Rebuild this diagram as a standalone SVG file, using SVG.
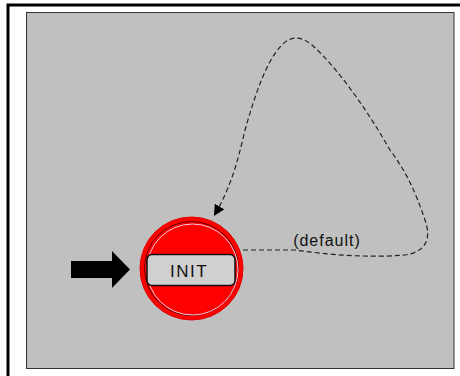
<svg xmlns="http://www.w3.org/2000/svg" width="460" height="376" viewBox="0 0 460 376">
<defs>
<style>
.lbl{font-family:"Liberation Sans",Arial,sans-serif;fill:#111}
.conn{fill:none;stroke:#222;stroke-width:1.2;stroke-dasharray:5 3}
</style>
<marker id="ah" viewBox="0 0 10 10" refX="10" refY="5" markerWidth="11" markerHeight="11" markerUnits="userSpaceOnUse" orient="auto">
<path d="M0,0 L10,5 L0,10 z" fill="#000"/>
</marker>
</defs>
<rect x="0" y="0" width="460" height="376" fill="#fff"/>
<rect x="8" y="5" width="470" height="390" fill="none" stroke="#000" stroke-width="3"/>
<rect x="26.5" y="12.5" width="427.5" height="356" fill="#c0c0c0" stroke="#333" stroke-width="1"/>
<g id="connectors">
<path class="conn" marker-end="url(#ah)" d="M243,250 L295,250 C330,255 370,258 405,255 C425,252 432,240 425,220 C415,190 405,170 390,150 C370,115 340,70 312,45 C302,37 292,34 281,46 C266,62 255,95 245,130 C238,160 232,185 214,216"/>
<text class="lbl" x="327" y="246" font-size="16" letter-spacing="1" text-anchor="middle">(default)</text>
</g>
<g id="start-arrow">
<path d="M71,261 L112,261 L112,251 L130,269.5 L112,288 L112,278 L71,278 z" fill="#000"/>
</g>
<g id="INIT">
<circle cx="191.5" cy="268.5" r="51.5" fill="#ff0000" stroke="#e00000" stroke-width="1"/>
<circle cx="191.5" cy="268.5" r="47" fill="none" stroke="#600" stroke-width="1"/>
<circle cx="192.5" cy="269.5" r="45.5" fill="none" stroke="#f4c8e0" stroke-width="1"/>
<rect x="147" y="254.5" width="88" height="31" rx="5" fill="#d0d0d0" stroke="#111" stroke-width="1.5"/>
<text class="lbl" x="189" y="277" font-size="17" letter-spacing="1.5" text-anchor="middle">INIT</text>
</g>
</svg>
